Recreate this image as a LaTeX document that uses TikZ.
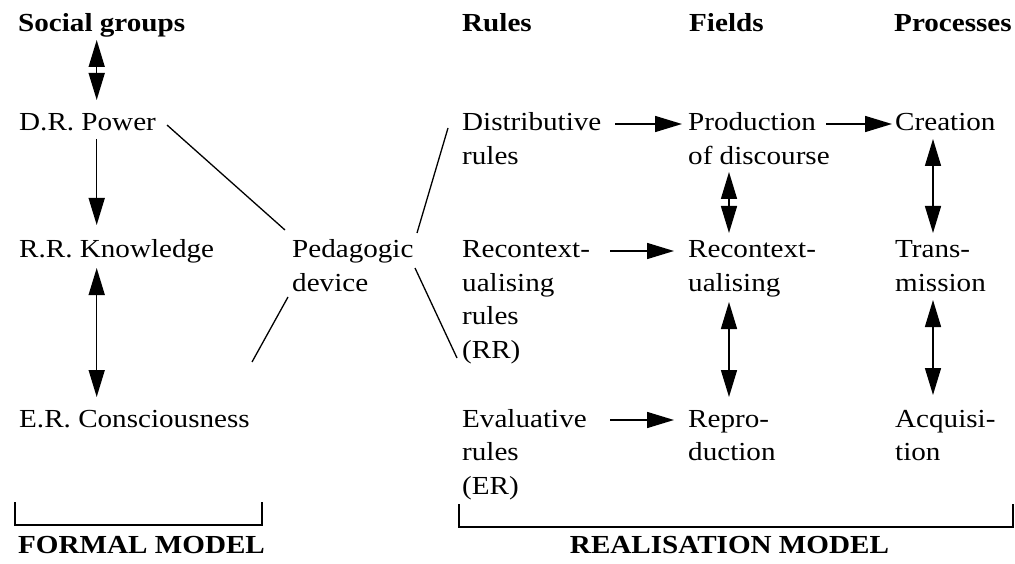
\documentclass[tikz,border=0pt]{standalone}
\usepackage{fontspec}
\setmainfont{Liberation Serif}[FakeStretch=1.12]
\usetikzlibrary{arrows.meta,calc}
\newcommand{\mlines}[1]{\begin{tabular}[t]{@{}l@{}}#1\end{tabular}}
\tikzset{
  lbl/.style={inner sep=0pt, anchor=base west, font=\fontsize{26}{33.5}\selectfont},
  hdr/.style={lbl, font=\fontsize{26}{33.5}\selectfont\bfseries},
  conn/.style={line width=1.3pt},
  arr/.style={line width=1.5pt, -{Triangle[length=27pt,width=16pt]}},
  dbl/.style={line width=1.5pt, {Triangle[length=27pt,width=16pt]}-{Triangle[length=27pt,width=16pt]}},
  brk/.style={line width=1.2pt}
}
\begin{document}
\begin{tikzpicture}[x=1pt,y=-1pt]
\useasboundingbox (0,0) rectangle (1015,564);
% headers
\node[hdr] (sg) at (18,32) {Social groups};
\node[hdr] (rh) at (462,32) {Rules};
\node[hdr] (fh) at (689,32) {Fields};
\node[hdr] (ph) at (894,32) {Processes};
% formal model
\node[lbl] (drp) at (19,131) {D.R. Power};
\node[lbl] (rrk) at (19,258) {R.R. Knowledge};
\node[lbl] (erc) at (19,427) {E.R. Consciousness};
\node[lbl] (pd) at (292,258) {\mlines{Pedagogic\\device}};
% rules
\node[lbl] (dr) at (462,131) {\mlines{Distributive\\rules}};
\node[lbl] (rr) at (462,258) {\mlines{Recontext-\\ualising\\rules\\(RR)}};
\node[lbl] (er) at (462,427) {\mlines{Evaluative\\rules\\(ER)}};
% fields
\node[lbl] (pod) at (688,131) {\mlines{Production\\of discourse}};
\node[lbl] (rec) at (688,258) {\mlines{Recontext-\\ualising}};
\node[lbl] (rep) at (688,427) {\mlines{Repro-\\duction}};
% processes
\node[lbl] (cre) at (895,131) {Creation};
\node[lbl] (tra) at (895,258) {\mlines{Trans-\\mission}};
\node[lbl] (acq) at (895,427) {\mlines{Acquisi-\\tion}};
% model labels
\node[hdr] (fm) at (18,553) {FORMAL MODEL};
\node[hdr, anchor=base] (rm) at (729.5,553) {REALISATION MODEL};
% column coordinates
\coordinate (colA) at (96.7,0);
\coordinate (colF) at (729,0);
\coordinate (colP) at (933,0);
% vertical arrows
\draw[dbl] ($(sg.base -| colA)+(0,8)$) -- ($(drp.base -| colA)+(0,-31)$);
\draw[arr] ($(drp.base -| colA)+(0,8)$) -- ($(rrk.base -| colA)+(0,-33)$);
\draw[dbl] ($(rrk.base -| colA)+(0,10)$) -- ($(erc.base -| colA)+(0,-30)$);
\draw[dbl] ($(pod.base -| colF)+(0,41)$) -- ($(rec.base -| colF)+(0,-25)$);
\draw[dbl] ($(rec.base -| colF)+(0,44)$) -- ($(rep.base -| colF)+(0,-30)$);
\draw[dbl] ($(cre.base -| colP)+(0,8)$) -- ($(tra.base -| colP)+(0,-25)$);
\draw[dbl] ($(tra.base -| colP)+(0,42)$) -- ($(acq.base -| colP)+(0,-32)$);
% horizontal arrows
\draw[arr] ($(dr.base west)+(153,-7)$) -- ($(pod.base west)+(-6,-7)$);
\draw[arr] ($(pod.base west)+(138,-7)$) -- ($(cre.base west)+(-3,-7)$);
\draw[arr] ($(rr.base west)+(148,-7)$) -- ($(rec.base west)+(-14,-7)$);
\draw[arr] ($(er.base west)+(148,-7)$) -- ($(rep.base west)+(-14,-7)$);
% pedagogic device lines
\draw[conn] ($(drp.base west)+(148,-6)$) -- ($(pd.base west)+(-7,-28)$);
\draw[conn] ($(pd.base west)+(-4,39)$) -- ($(erc.base west)+(233,-65)$);
\draw[conn] ($(pd.base west)+(125,-25)$) -- ($(dr.base west)+(-14,-3)$);
\draw[conn] ($(pd.base west)+(123,10)$) -- ($(rr.base west)+(-5,100)$);
% brackets
\draw[brk] (15,502) -- (15,525) -- (262,525) -- (262,502);
\draw[brk] (459,504) -- (459,527) -- (1013,527) -- (1013,504);
\end{tikzpicture}
\end{document}
